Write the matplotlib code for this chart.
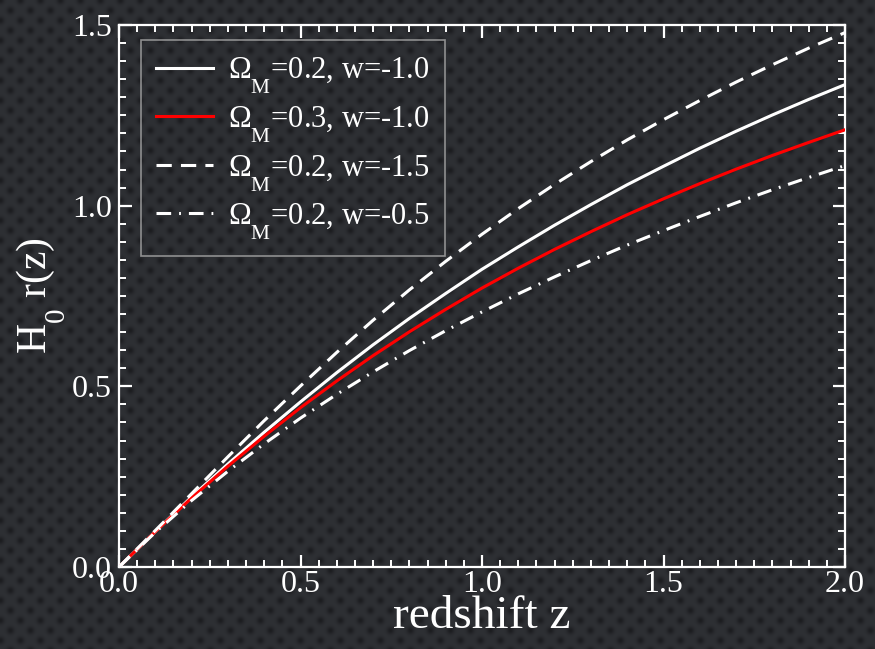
import numpy as np
import matplotlib
matplotlib.use("Agg")
import matplotlib.pyplot as plt
import matplotlib._mathtext as _mt

plt.rcParams['font.family'] = ['Liberation Serif', 'DejaVu Serif']
plt.rcParams['mathtext.fontset'] = 'custom'
plt.rcParams['mathtext.rm'] = 'Liberation Serif'
plt.rcParams['mathtext.it'] = 'Liberation Serif:italic'
# subscripts sit low in the reference
_mt.FontConstantsBase.sub1 = 1.0
_mt.FontConstantsBase.subdrop = 0.6

# ---- data ----
z = [0.0, 0.1, 0.2, 0.3, 0.4, 0.5, 0.6, 0.7, 0.8, 0.9, 1.0,
     1.1, 1.2, 1.3, 1.4, 1.5, 1.6, 1.7, 1.8, 1.9, 2.0]
r_om02_wm10 = [0.000, 0.098, 0.194, 0.285, 0.373, 0.457, 0.538, 0.615, 0.688, 0.757, 0.824,
               0.886, 0.946, 1.003, 1.058, 1.109, 1.159, 1.206, 1.251, 1.294, 1.335]
r_om03_wm10 = [0.000, 0.098, 0.191, 0.279, 0.362, 0.441, 0.515, 0.585, 0.651, 0.713, 0.772,
               0.827, 0.879, 0.928, 0.975, 1.019, 1.061, 1.101, 1.139, 1.175, 1.210]
r_om02_wm15 = [0.000, 0.101, 0.203, 0.305, 0.405, 0.501, 0.594, 0.683, 0.767, 0.846, 0.921,
               0.992, 1.059, 1.122, 1.182, 1.238, 1.291, 1.342, 1.390, 1.436, 1.479]
r_om02_wm05 = [0.000, 0.096, 0.184, 0.265, 0.341, 0.412, 0.478, 0.540, 0.599, 0.654, 0.706,
               0.756, 0.803, 0.848, 0.891, 0.931, 0.970, 1.008, 1.044, 1.078, 1.111]
labels = [r'$\Omega_{\rm M}$=0.2, w=-1.0',
          r'$\Omega_{\rm M}$=0.3, w=-1.0',
          r'$\Omega_{\rm M}$=0.2, w=-1.5',
          r'$\Omega_{\rm M}$=0.2, w=-0.5']
xticks = [0.0, 0.5, 1.0, 1.5, 2.0]
yticks = [0.0, 0.5, 1.0, 1.5]

W, H = 875, 649
fig = plt.figure(figsize=(W / 100, H / 100), dpi=100)

# textured dark background
yy, xx = np.mgrid[0:H, 0:W].astype(float)
a = np.mod(xx + yy + 10, 20) - 10
b = np.mod(xx - yy + 10, 20) - 10
d2 = (a * a + b * b) / 2.0
dots = np.exp(-d2 / (2 * 2.6 ** 2))
base = np.array([0.180, 0.188, 0.204])
dark = np.array([0.110, 0.114, 0.125])
img = base[None, None, :] * (1 - dots[..., None]) + dark[None, None, :] * dots[..., None]
bg = fig.add_axes([0, 0, 1, 1], zorder=-10)
bg.imshow(img, aspect='auto', interpolation='nearest')
bg.axis('off')

ax = fig.add_axes([119 / W, 1 - 567 / H, (845 - 119) / W, (567 - 25) / H])
ax.patch.set_alpha(0)

lw = 2.2
ax.plot(z, r_om02_wm10, color='white', lw=lw, label=labels[0], zorder=3)
ax.plot(z, r_om03_wm10, color='#ff0000', lw=lw, label=labels[1], zorder=4)
ax.plot(z, r_om02_wm15, color='white', lw=lw, dashes=(5, 3), label=labels[2], zorder=5)
ax.plot(z, r_om02_wm05, color='white', lw=lw, dashes=(4.8, 2.6, 0.6, 2.6), label=labels[3], zorder=5)

ax.set_xlim(0, 2.0)
ax.set_ylim(0, 1.5)
ax.set_xticks(xticks)
ax.set_yticks(yticks)
ax.set_xticklabels([f'{v:.1f}' for v in xticks])
ax.set_yticklabels([f'{v:.1f}' for v in yticks])
ax.set_xticks(np.arange(0, 2.0001, 0.05), minor=True)
ax.set_yticks(np.arange(0, 1.5001, 0.05), minor=True)

for s in ax.spines.values():
    s.set_color('white')
    s.set_linewidth(1.6)
ax.tick_params(which='both', direction='in', top=True, right=True, colors='white')
ax.tick_params(which='major', length=9, width=1.6, labelsize=23, pad=5)
ax.tick_params(which='minor', length=5, width=1.4)
ax.tick_params(axis='x', which='major', pad=2)

ax.set_xlabel('redshift z', color='white', fontsize=34, labelpad=-2)
ax.set_ylabel(r'H$_0$ r(z)', color='white', fontsize=30, labelpad=3.5)

leg = ax.legend(loc='upper left', bbox_to_anchor=(0.03, 0.972), fontsize=22,
                frameon=True, fancybox=False, handlelength=1.85, handletextpad=0.5,
                labelspacing=0.28, borderpad=0.5, borderaxespad=0)
leg.get_frame().set_facecolor('none')
leg.get_frame().set_edgecolor('#a8a8a8')
leg.get_frame().set_linewidth(1.2)
for t in leg.get_texts():
    t.set_color('white')

fig.savefig('out.png', dpi=100)
